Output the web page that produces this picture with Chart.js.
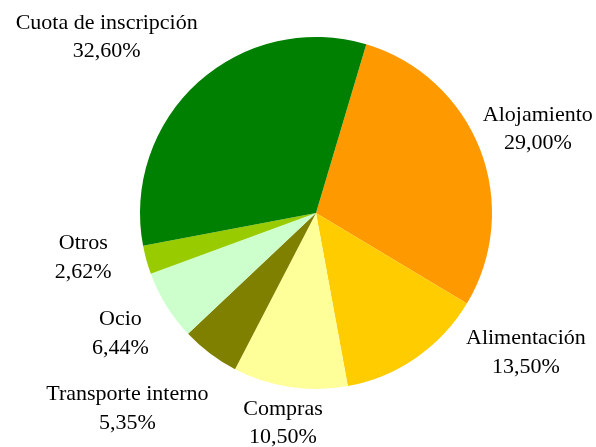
<!DOCTYPE html>
<html>
<head>
<meta charset="utf-8">
<script src="https://cdn.jsdelivr.net/npm/chart.js@4"></script>
<style>
    html, body { margin: 0; padding: 0; background: #fff; }
    #wrap { width: 596px; height: 447px; }
</style>
</head>
<body>
<div id="wrap"><canvas id="gastosChart" width="596" height="447"></canvas></div>
<script>
const categories = ['Alojamiento', 'Alimentación', 'Compras', 'Transporte interno', 'Ocio', 'Otros', 'Cuota de inscripción'];
const shares = [29.00, 13.50, 10.50, 5.35, 6.44, 2.62, 32.60];
const sliceColors = ['#FF9900', '#FFCC00', '#FFFF99', '#808000', '#CCFFCC', '#99CC00', '#008000'];

const fontFamily = '"Liberation Serif", "Times New Roman", serif';

// labels outside the pie, pushed a bit like the spreadsheet did it
const outsideLabels = {
    id: 'outsideLabels',
    afterDraw(chart, args, opts) {
        const ctx = chart.ctx;
        const meta = chart.getDatasetMeta(0);
        const lineH = opts.lineHeight;
        ctx.save();
        ctx.font = opts.size + 'px ' + fontFamily;
        ctx.fillStyle = '#000';
        ctx.textAlign = 'center';
        ctx.textBaseline = 'middle';
        meta.data.forEach((arc, i) => {
            const mid = (arc.startAngle + arc.endAngle) / 2;
            const dx = Math.cos(mid), dy = Math.sin(mid);
            const r = arc.outerRadius + opts.gap;
            const line1 = chart.data.labels[i];
            const line2 = shares[i].toFixed(2).replace('.', ',') + '%';
            const w = Math.max(ctx.measureText(line1).width, ctx.measureText(line2).width);
            const nudge = opts.nudge[i] || [0, 0];
            const cx = arc.x + dx * r + dx * w / 2 + nudge[0];
            const cy = arc.y + dy * r + dy * lineH + nudge[1];
            ctx.fillText(line1, cx, cy - lineH / 2);
            ctx.fillText(line2, cx, cy + lineH / 2);
        });
        ctx.restore();
    }
};

document.addEventListener('DOMContentLoaded', () => {
    const ctx = document.getElementById('gastosChart').getContext('2d');
    new Chart(ctx, {
        type: 'pie',
        data: {
            labels: categories,
            datasets: [{
                data: shares,
                backgroundColor: sliceColors,
                borderWidth: 0
            }]
        },
        options: {
            responsive: false,
            animation: false,
            rotation: 16.6,
            layout: {
                padding: { left: 140, right: 104, top: 37, bottom: 58 }
            },
            plugins: {
                legend: { display: false },
                tooltip: { enabled: false },
                outsideLabels: {
                    size: 22,
                    lineHeight: 28.5,
                    gap: 8,
                    nudge: [[-1, -7], [71, -35], [0, 0], [-29, 26], [-15, 9], [-28, -12], [-25, -18]]
                }
            }
        },
        plugins: [outsideLabels]
    });
});
</script>
</body>
</html>
